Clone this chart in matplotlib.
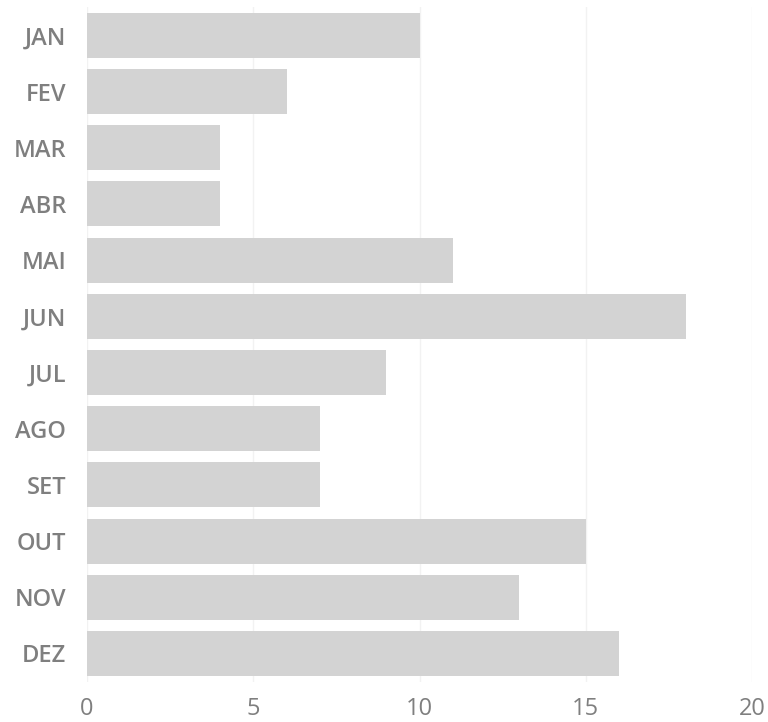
import matplotlib
matplotlib.use("Agg")
import matplotlib.pyplot as plt

# Data
months = ["JAN", "FEV", "MAR", "ABR", "MAI", "JUN", "JUL", "AGO", "SET", "OUT", "NOV", "DEZ"]
values = [10, 6, 4, 4, 11, 18, 9, 7, 7, 15, 13, 16]
x_ticks = [0, 5, 10, 15, 20]

bar_color = "#d3d3d3"
text_color = "#7f7f7f"

fig = plt.figure(figsize=(7.68, 7.22), dpi=100)
ax = fig.add_axes([0.1133, 0.056, 0.8659, 0.934])

pos = list(range(len(months)))
ax.barh(pos, values, height=0.8, color=bar_color, zorder=2)

ax.set_xlim(0, 20)
ax.set_ylim(len(months) - 0.5, -0.5)
ax.set_xticks(x_ticks)
ax.set_xticklabels([str(t) for t in x_ticks], fontsize=17, family="Open Sans",
                   color=text_color)
ax.set_yticks(pos)
ax.set_yticklabels(months, fontsize=17, family="Open Sans", fontweight="semibold",
                   color=text_color)

ax.xaxis.grid(True, color="#f2f2f2", linewidth=1, zorder=0)
ax.tick_params(length=0)
ax.tick_params(axis="x", pad=11)
ax.tick_params(axis="y", pad=15)
for s in ax.spines.values():
    s.set_visible(False)

fig.savefig("out.png", dpi=100)
